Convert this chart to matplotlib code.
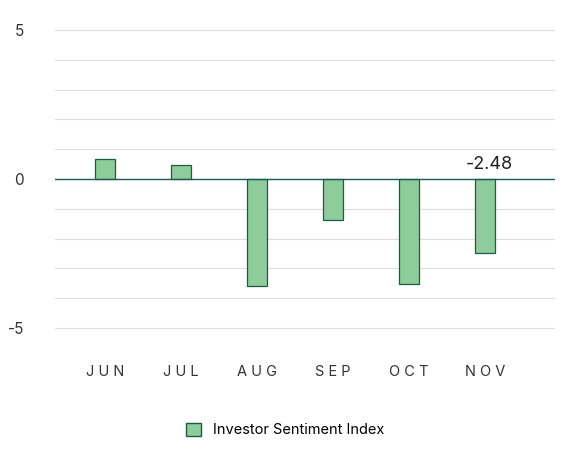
import matplotlib
matplotlib.use("Agg")
import matplotlib.pyplot as plt
from matplotlib.patches import Patch

categories = ["JUN", "JUL", "AUG", "SEP", "OCT", "NOV"]
values = [0.67, 0.47, -3.6, -1.37, -3.53, -2.48]
series_name = "Investor Sentiment Index"

plt.rcParams['font.family'] = ['Inter', 'DejaVu Sans']
plt.rcParams['axes.unicode_minus'] = False
fig = plt.figure(figsize=(5.76, 4.55), dpi=100)
ax = fig.add_axes([0.095, 0.277, 0.869, 0.659])
x = list(range(len(categories)))
ax.bar(x, values, width=0.26, color="#8fcc9c", edgecolor="#1d5b3e", linewidth=0.9, zorder=3)
ax.set_xlim(-0.66, 5.92)
ax.set_ylim(-5.03, 5.03)
ax.set_yticks([-5, 0, 5])
ax.set_yticks(range(-5, 6), minor=True)
ax.grid(axis='y', which='both', color="#dddddd", linewidth=0.8, zorder=0)
ax.axhline(0, color="#1d5b5b", linewidth=1.0, zorder=4)
ax.set_xticks(x)
ax.set_xticklabels([" ".join(c) for c in categories])
ax.tick_params(axis='both', which='both', length=0, colors="#333333", labelsize=11)
ax.tick_params(axis='x', pad=26, labelsize=10.5)
ax.tick_params(axis='y', pad=22)
for s in ax.spines.values():
    s.set_visible(False)
ax.text(x[-1] + 0.05, 0.2, f"{values[-1]:.2f}", ha='center', va='bottom',
        fontsize=13, color="#222222", zorder=5)
fig.legend(handles=[Patch(facecolor="#8fcc9c", edgecolor="#1d5b3e", label=series_name)],
           loc='center', bbox_to_anchor=(0.495, 0.055), frameon=False, fontsize=10.5,
           handlelength=1.0, handleheight=1.0)
fig.savefig("out.png", dpi=100)
